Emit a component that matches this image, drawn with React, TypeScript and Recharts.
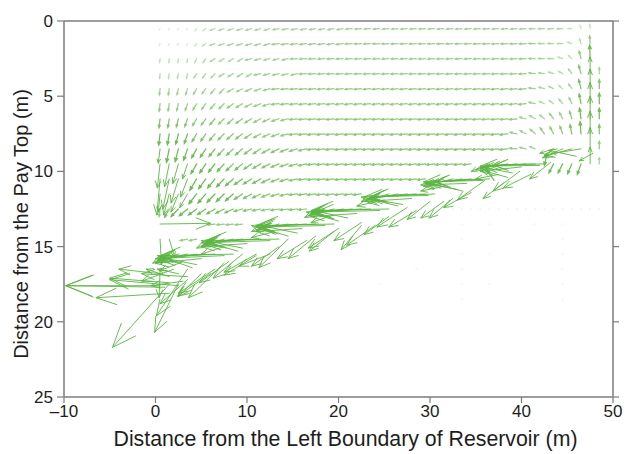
import { ScatterChart, Scatter, XAxis, YAxis, ReferenceLine } from 'recharts';

const GREEN = '#5cb544';
const AXIS = '#7d7d7d';
const TEXT = '#1e1e1e';

const X_TICKS = [-10, 0, 10, 20, 30, 40, 50];
const Y_TICKS = [0, 5, 10, 15, 20, 25];

// grid of the velocity field (m)
const COL_X = [0.5, 1.5, 2.5, 3.5, 4.5, 5.5, 6.5, 7.5, 8.5, 9.5, 10.5, 11.5, 12.5, 13.5, 14.5, 15.5, 16.5, 17.5, 18.5, 19.5, 20.5, 21.5, 22.5, 23.5, 24.5, 25.5, 26.5, 27.5, 28.5, 29.5, 30.5, 31.5, 32.5, 33.5, 34.5, 35.5, 36.5, 37.5, 38.5, 39.5, 40.5, 41.5, 42.5, 43.5, 44.5, 45.5, 46.5, 47.5, 48.5];
const ROW_Y = [0.5, 1.5, 2.5, 3.5, 4.5, 5.5, 6.5, 7.5, 8.5, 9.5, 10.5, 11.5, 12.5, 13.5, 14.5];

// horizontal / vertical components per row (null = no arrow)
const u0 = [-0.1, -0.1, -0.1, -0.1, -0.15, -0.3, -0.5, -0.55, -0.55, -0.6, -0.6, -0.6, -0.6, -0.65, -0.65, -0.65, -0.65, -0.65, -0.65, -0.65, -0.65, -0.7, -0.7, -0.7, -0.7, -0.7, -0.7, -0.7, -0.7, -0.7, -0.7, -0.7, -0.7, -0.7, -0.7, -0.7, -0.7, -0.7, -0.7, -0.7, -0.7, -0.65, -0.65, -0.6, -0.6, -0.4, -0.1, -0.05];
const v0 = [0.1, 0.1, 0.1, 0.1, 0.15, 0.15, 0.12, 0.12, 0.12, 0.12, 0.12, 0.12, 0.12, 0.08, 0.08, 0.08, 0.08, 0.08, 0.08, 0.08, 0.08, 0.04, 0.04, 0.04, 0.04, 0.04, 0.04, 0.04, 0.04, 0.04, 0.04, 0.04, 0.04, 0.04, 0.04, 0.04, 0.04, 0.04, 0.04, 0.04, 0.04, 0.03, 0.03, 0.03, 0.03, 0, -0.2, -0.25];

const u1 = [-0.1, -0.1, -0.1, -0.1, -0.2, -0.35, -0.55, -0.58, -0.6, -0.62, -0.64, -0.65, -0.65, -0.75, -0.75, -0.75, -0.75, -0.75, -0.75, -0.75, -0.75, -0.75, -0.75, -0.75, -0.75, -0.75, -0.75, -0.75, -0.75, -0.75, -0.75, -0.75, -0.75, -0.75, -0.75, -0.75, -0.75, -0.75, -0.75, -0.75, -0.75, -0.7, -0.65, -0.6, -0.55, -0.45, -0.15, -0.05];
const v1 = [0.12, 0.12, 0.12, 0.12, 0.15, 0.15, 0.12, 0.12, 0.12, 0.12, 0.12, 0.12, 0.12, 0.06, 0.06, 0.06, 0.06, 0.06, 0.06, 0.06, 0.06, 0.03, 0.03, 0.03, 0.03, 0.03, 0.03, 0.03, 0.03, 0.03, 0.03, 0.03, 0.03, 0.03, 0.03, 0.03, 0.03, 0.03, 0.03, 0.03, 0.03, 0, 0, 0, 0, -0.1, -0.3, -0.5];

const u2 = [-0.05, -0.05, -0.05, -0.05, -0.2, -0.3, -0.5, -0.5, -0.5, -0.5, -0.65, -0.65, -0.65, -0.65, -0.65, -0.75, -0.75, -0.75, -0.75, -0.75, -0.75, -0.75, -0.75, -0.75, -0.75, -0.75, -0.75, -0.75, -0.75, -0.75, -0.75, -0.75, -0.75, -0.75, -0.75, -0.75, -0.75, -0.75, -0.75, -0.75, -0.75, -0.7, -0.65, -0.6, -0.5, -0.35, -0.2, -0.05];
const v2 = [0.25, 0.25, 0.25, 0.25, 0.25, 0.25, 0.18, 0.18, 0.18, 0.18, 0.1, 0.1, 0.1, 0.1, 0.1, 0.03, 0.03, 0.03, 0.03, 0.03, 0.03, 0.03, 0.03, 0.03, 0.03, 0.03, 0.03, 0.03, 0.03, 0.03, 0.03, 0.03, 0.03, 0.03, 0.03, 0.03, 0.03, 0.03, 0.03, 0.03, 0.03, 0, 0, 0, -0.1, -0.2, -0.5, -0.9];

const u3 = [-0.05, -0.08, -0.1, -0.12, -0.3, -0.35, -0.4, -0.55, -0.55, -0.55, -0.55, -0.7, -0.7, -0.7, -0.7, -0.7, -0.78, -0.78, -0.78, -0.78, -0.78, -0.78, -0.78, -0.78, -0.78, -0.78, -0.78, -0.78, -0.78, -0.78, -0.78, -0.78, -0.78, -0.78, -0.78, -0.78, -0.78, -0.78, -0.78, -0.78, -0.78, -0.7, -0.6, -0.55, -0.45, -0.35, -0.25, 0, 0];
const v3 = [0.3, 0.3, 0.3, 0.3, 0.28, 0.28, 0.28, 0.2, 0.2, 0.2, 0.2, 0.1, 0.1, 0.1, 0.1, 0.1, 0.03, 0.03, 0.03, 0.03, 0.03, 0.03, 0.03, 0.03, 0.03, 0.03, 0.03, 0.03, 0.03, 0.03, 0.03, 0.03, 0.03, 0.03, 0.03, 0.03, 0.03, 0.03, 0.03, 0.03, 0.03, -0.05, -0.05, -0.1, -0.15, -0.3, -0.55, -1.1, -0.4];

const u4 = [-0.08, -0.1, -0.15, -0.2, -0.35, -0.4, -0.45, -0.5, -0.6, -0.62, -0.65, -0.68, -0.7, -0.8, -0.8, -0.8, -0.8, -0.8, -0.8, -0.8, -0.8, -0.8, -0.8, -0.8, -0.8, -0.8, -0.8, -0.8, -0.8, -0.8, -0.8, -0.8, -0.8, -0.8, -0.8, -0.8, -0.8, -0.8, -0.8, -0.8, -0.8, -0.7, -0.6, -0.5, -0.4, -0.35, -0.25, 0, 0];
const v4 = [0.42, 0.42, 0.4, 0.4, 0.36, 0.33, 0.32, 0.3, 0.22, 0.2, 0.18, 0.15, 0.12, 0.04, 0.04, 0.04, 0.04, 0.04, 0.04, 0.04, 0.04, 0.04, 0.04, 0.04, 0.04, 0.04, 0.04, 0.04, 0.04, 0.04, 0.04, 0.04, 0.04, 0.04, 0.04, 0.04, 0.04, 0.04, 0.04, 0.04, 0.04, -0.05, -0.1, -0.15, -0.2, -0.3, -0.6, -1.3, -0.6];

const u5 = [-0.1, -0.12, -0.18, -0.25, -0.4, -0.45, -0.5, -0.55, -0.65, -0.68, -0.7, -0.72, -0.75, -0.82, -0.82, -0.82, -0.82, -0.82, -0.82, -0.82, -0.82, -0.82, -0.82, -0.82, -0.82, -0.82, -0.82, -0.82, -0.82, -0.82, -0.82, -0.82, -0.82, -0.82, -0.82, -0.82, -0.82, -0.82, -0.82, -0.82, -0.82, -0.7, -0.55, -0.45, -0.4, -0.3, -0.2, 0, 0];
const v5 = [0.5, 0.48, 0.46, 0.44, 0.4, 0.37, 0.35, 0.33, 0.28, 0.25, 0.22, 0.18, 0.15, 0.05, 0.05, 0.05, 0.05, 0.05, 0.05, 0.05, 0.05, 0.05, 0.05, 0.05, 0.05, 0.05, 0.05, 0.05, 0.05, 0.05, 0.05, 0.05, 0.05, 0.05, 0.05, 0.05, 0.05, 0.05, 0.05, 0.05, 0.05, -0.1, -0.15, -0.2, -0.3, -0.4, -0.65, -1.4, -0.7];

const u6 = [-0.12, -0.15, -0.22, -0.3, -0.45, -0.5, -0.55, -0.6, -0.62, -0.7, -0.72, -0.74, -0.76, -0.78, -0.78, -0.85, -0.85, -0.85, -0.85, -0.85, -0.85, -0.85, -0.85, -0.85, -0.85, -0.85, -0.85, -0.85, -0.85, -0.85, -0.85, -0.85, -0.85, -0.85, -0.85, -0.85, -0.85, -0.85, -0.85, -0.85, -0.7, -0.6, -0.5, -0.45, -0.35, -0.25, -0.15, 0, 0];
const v6 = [0.6, 0.58, 0.55, 0.52, 0.45, 0.42, 0.4, 0.36, 0.34, 0.3, 0.27, 0.24, 0.2, 0.16, 0.12, 0.05, 0.05, 0.05, 0.05, 0.05, 0.05, 0.05, 0.05, 0.05, 0.05, 0.05, 0.05, 0.05, 0.05, 0.05, 0.05, 0.05, 0.05, 0.05, 0.05, 0.05, 0.05, 0.05, 0.05, 0.05, -0.1, -0.2, -0.25, -0.35, -0.4, -0.5, -0.7, -1.5, -0.7];

const u7 = [-0.15, -0.2, -0.28, -0.35, -0.5, -0.55, -0.6, -0.65, -0.68, -0.72, -0.74, -0.76, -0.78, -0.8, -0.8, -0.88, -0.88, -0.88, -0.88, -0.88, -0.88, -0.88, -0.88, -0.88, -0.88, -0.88, -0.88, -0.88, -0.88, -0.88, -0.88, -0.88, -0.88, -0.88, -0.88, -0.88, -0.88, -0.88, -0.88, -0.75, -0.65, -0.55, -0.45, -0.4, -0.3, -0.2, -0.1, 0, 0];
const v7 = [0.75, 0.72, 0.68, 0.64, 0.52, 0.48, 0.44, 0.4, 0.37, 0.34, 0.3, 0.26, 0.22, 0.18, 0.14, 0.06, 0.06, 0.06, 0.06, 0.06, 0.06, 0.06, 0.06, 0.06, 0.06, 0.06, 0.06, 0.06, 0.06, 0.06, 0.06, 0.06, 0.06, 0.06, 0.06, 0.06, 0.06, 0.06, 0.06, -0.1, -0.2, -0.3, -0.4, -0.45, -0.5, -0.6, -0.8, -1.5, -0.6];

const u8 = [-0.2, -0.3, -0.35, -0.42, -0.55, -0.6, -0.65, -0.7, -0.72, -0.75, -0.78, -0.8, -0.82, -0.84, -0.85, -0.85, -0.85, -0.9, -0.9, -0.9, -0.9, -0.9, -0.9, -0.9, -0.9, -0.9, -0.9, -0.9, -0.9, -0.9, -0.9, -0.9, -0.9, -0.9, -0.9, -0.9, -0.9, -0.9, -0.9, -0.8, -0.7, -0.6, null, null, null, null, null, 0, 0];
const v8 = [0.95, 0.9, 0.85, 0.75, 0.6, 0.55, 0.5, 0.45, 0.42, 0.4, 0.35, 0.32, 0.28, 0.24, 0.2, 0.16, 0.12, 0.06, 0.06, 0.06, 0.06, 0.06, 0.06, 0.06, 0.06, 0.06, 0.06, 0.06, 0.06, 0.06, 0.06, 0.06, 0.06, 0.06, 0.06, 0.06, 0.06, 0.06, 0.06, -0.05, -0.1, -0.15, null, null, null, null, null, -1.4, -0.5];

const u9 = [-0.3, -0.5, -0.6, -0.55, -0.62, -0.66, -0.7, -0.74, -0.77, -0.8, -0.82, -0.84, -0.85, -0.86, -0.87, -0.88, -0.88, -0.9, -0.9, -0.9, -0.9, -0.9, -0.9, -0.9, -0.9, -0.9, -0.9, -0.9, -0.9, -0.9, -0.9, -0.9, -0.9, -0.9, -0.9, null, null, null, null, null, null, null, null, -0.5, -0.5, -0.45, -0.4, 0, 0];
const v9 = [1.6, 1.5, 1.3, 1.0, 0.65, 0.6, 0.55, 0.5, 0.45, 0.4, 0.35, 0.3, 0.26, 0.22, 0.18, 0.15, 0.12, 0.06, 0.06, 0.06, 0.06, 0.06, 0.06, 0.06, 0.06, 0.06, 0.06, 0.06, 0.06, 0.06, 0.06, 0.06, 0.06, 0.06, 0.06, null, null, null, null, null, null, null, null, 0.6, 0.6, 0.65, 0.7, -1.1, -0.4];

const u10 = [-0.35, -0.7, -0.8, -0.75, -0.75, -0.78, -0.8, -0.82, -0.85, -0.88, -0.88, -0.88, -0.88, -0.88, -0.88, -0.88, -0.9, -0.9, -0.9, -0.9, -0.9, -0.9, -0.9, -0.9, -0.9, -0.9, -0.9, -0.9, -0.9, -0.9];
const v10 = [2.4, 2.0, 1.6, 1.2, 0.75, 0.65, 0.6, 0.52, 0.45, 0.38, 0.34, 0.3, 0.25, 0.2, 0.16, 0.12, 0.06, 0.06, 0.06, 0.06, 0.06, 0.06, 0.06, 0.06, 0.06, 0.06, 0.06, 0.06, 0.06, 0.06];

const u11 = [-0.2, -0.6, -0.8, -0.85, -0.85, -0.85, -0.85, -0.85, -0.85, -0.88, -0.88, -0.88, -0.88, -0.88, -0.88, -0.9, -0.9, -0.9, -0.9, -0.9, -0.9, -0.9, -0.9];
const v11 = [1.2, 1.4, 1.2, 0.9, 0.65, 0.6, 0.55, 0.5, 0.45, 0.35, 0.3, 0.25, 0.2, 0.15, 0.12, 0.06, 0.06, 0.06, 0.06, 0.06, 0.06, 0.06, 0.06];

const u12 = [-0.1, -0.5, -0.8, -0.9, -0.9, -0.9, -0.9, -0.9, -0.9, -0.9, -0.9, -0.9, -0.9, -0.9, -0.9, -0.9, -0.9];
const v12 = [0.5, 0.55, 0.5, 0.45, 0.4, 0.36, 0.32, 0.28, 0.25, 0.15, 0.13, 0.11, 0.1, 0.08, 0.07, 0.06, 0.05];

const u13 = [5.5, null, null, null, null, null, -0.8, -0.8, -0.8, -0.8];
const v13 = [-0.05, null, null, null, null, null, 0.05, 0.05, 0.05, 0.05];

const u14 = [0.15, 0.6, null, -0.8, -0.8];
const v14 = [1.7, 1.2, null, 0.1, 0.1];

const U_ROWS = [u0, u1, u2, u3, u4, u5, u6, u7, u8, u9, u10, u11, u12, u13, u14];
const V_ROWS = [v0, v1, v2, v3, v4, v5, v6, v7, v8, v9, v10, v11, v12, v13, v14];

// strong arrows along the front (tail x, tail y, u, v)
const BAND_X = [46.5, 45.5, 44.5, 43.5, 46.0, 42.8,
  42.5, 41.5, 40.5, 39.5, 38.5, 37.5, 36.5, 38.5, 37.5, 37.0,
  36.5, 35.5, 34.5, 33.5, 32.5, 31.5, 33.5, 31.5,
  30.5, 29.5, 28.5, 27.5, 26.5, 25.5, 24.5, 26.5, 25.0,
  25.5, 23.5, 22.5, 21.5, 20.5, 19.5, 18.5, 20.0, 19.5,
  19.5, 17.5, 16.5, 15.5, 14.5, 13.5, 12.5, 14.5, 13.0,
  13.5, 11.5, 10.5, 9.5, 8.5, 7.5, 6.5, 9.0, 7.5,
  8.5, 6.5, 5.5, 4.5, 3.5, 2.5, 1.5, 4.0, 3.0, 2.5,
  0.5, 1.0, 2.5, 1.5, 3.5, 0.5, 1.5, 0.5,
  1.5, 2.5, 3.5, 7.5, 6.5, 9.5, 14.5, 12.5, 20.0, 24.0, 27.5, 32.5, 36.0, 39.8, 43.2, 47.8, 17.5, 11.0, 5.0, 22.5, 30.0,
  42.0, 40.0, 39.0, 41.0, 38.0,
  35.8, 34.0, 33.0, 34.5, 31.5,
  29.8, 28.0, 27.0, 28.5, 25.5,
  24.5, 22.0, 21.0, 22.5, 19.5,
  18.5, 16.0, 15.5, 16.5, 13.5,
  12.5, 10.0, 9.5, 11.0, 8.0,
  7.5, 5.0, 4.5, 6.0, 3.5,
  2.0, 1.5, 3.0];
const BAND_Y = [8.5, 8.5, 8.5, 8.5, 9.0, 8.8,
  9.5, 9.5, 9.5, 9.5, 9.5, 9.5, 9.5, 10.4, 10.2, 10.6,
  10.5, 10.5, 10.5, 10.5, 10.5, 10.5, 11.3, 11.0,
  11.5, 11.5, 11.5, 11.5, 11.5, 11.5, 11.5, 12.3, 11.9,
  12.5, 12.5, 12.5, 12.5, 12.5, 12.5, 12.5, 13.3, 12.9,
  13.5, 13.5, 13.5, 13.5, 13.5, 13.5, 13.5, 14.3, 14.0,
  14.5, 14.5, 14.5, 14.5, 14.5, 14.5, 14.5, 15.3, 15.0,
  15.5, 15.5, 15.5, 15.5, 15.5, 15.5, 15.5, 16.4, 16.0, 16.8,
  17.6, 17.7, 17.6, 17.4, 17.0, 16.8, 18.1, 16.5,
  17.5, 17.5, 16.5, 16.1, 16.5, 15.5, 14.5, 15.5, 13.8, 13.6, 12.4, 11.8, 10.6, 10.0, 9.4, 8.8, 14.3, 15.5, 16.8, 13.6, 12.0,
  9.6, 9.7, 10.1, 10.2, 10.8,
  10.6, 10.8, 11.2, 11.4, 12.0,
  11.6, 11.8, 12.2, 12.6, 13.0,
  12.6, 12.8, 13.1, 13.4, 14.0,
  13.6, 13.8, 14.1, 14.6, 15.0,
  14.6, 14.8, 15.1, 15.6, 16.0,
  15.6, 15.8, 16.2, 16.8, 17.2,
  16.5, 17.0, 17.3];
const BAND_U = [-4.0, -3.0, -2.2, -1.5, -3.0, -0.3,
  -5.5, -4.5, -4.0, -3.5, -3.0, -2.5, -2.0, -3.0, -2.5, -0.8,
  -6.0, -5.0, -4.0, -3.5, -2.8, -2.2, -4.0, -2.5,
  -7.0, -6.0, -5.0, -4.0, -3.3, -2.6, -2.0, -4.0, -3.0,
  -8.5, -6.5, -5.5, -4.5, -3.5, -2.8, -2.2, -3.5, -2.5,
  -8.5, -6.5, -5.0, -4.0, -3.2, -2.5, -2.0, -4.0, -2.5,
  -8.0, -6.0, -5.0, -4.0, -3.2, -2.5, -2.0, -4.0, -2.5,
  -8.0, -6.0, -5.0, -4.0, -3.2, -2.5, -1.8, -3.8, -2.5, -2.3,
  -10.3, -10.8, -7.5, -6.5, -5.0, -4.5, -8.0, -0.1,
  -6.2, -2.6, -3.4, -3.9, -4.0, -3.2, -3.2, -3.4, -3.3, -3.1, -3.3, -2.6, -3.0, -2.9, -2.3, -1.5, -3.0, -3.5, -2.5, -2.2, -2.5,
  -6.5, -4.5, -3.5, -3.0, -2.2,
  -6.5, -5.0, -3.5, -3.0, -2.5,
  -7.0, -5.0, -3.8, -3.0, -2.7,
  -7.0, -5.0, -3.8, -3.0, -2.7,
  -7.5, -5.0, -4.0, -3.2, -3.0,
  -7.5, -5.0, -4.0, -3.5, -3.2,
  -7.5, -5.0, -4.0, -3.6, -3.0,
  -3.5, -2.5, -3.5];
const BAND_V = [0.4, 0.5, 0.6, 0.3, -0.4, 0.8,
  0.1, 0.1, 0.15, 0.2, 0.3, 0.4, 0.5, -0.5, 0.3, -0.7,
  0.2, 0.2, 0.2, 0.3, 0.4, 0.5, -0.6, 0.3,
  0.2, 0.2, 0.2, 0.3, 0.35, 0.45, 0.5, -0.6, 0.4,
  0.1, 0.15, 0.2, 0.25, 0.35, 0.45, 0.55, -0.6, 0.5,
  0.1, 0.15, 0.2, 0.25, 0.35, 0.45, 0.5, -0.7, 0.4,
  0.1, 0.15, 0.25, 0.3, 0.4, 0.5, 0.6, -0.7, 0.5,
  0.1, 0.2, 0.3, 0.35, 0.45, 0.55, 0.6, -0.8, 0.6, -0.3,
  0.0, -0.1, -0.4, -0.3, -0.2, -0.3, 0.3, 1.9,
  4.2, 3.2, 3.1, 2.3, 1.6, 1.6, 1.9, 0.8, 1.3, 1.3, 1.3, 1.3, 1.3, 1.3, 1.1, 0.5, 1.5, 1.2, 1.5, 1.6, 1.2,
  0.05, 0.3, -0.4, 0.9, 1.0,
  0.1, 0.1, -0.4, 1.0, 1.1,
  0.1, 0.2, -0.4, 1.1, 1.2,
  0.1, 0.2, -0.5, 1.2, 1.3,
  0.1, 0.2, -0.5, 1.2, 1.3,
  0.15, 0.2, -0.5, 1.3, 1.4,
  0.2, 0.3, -0.5, 1.5, 1.6,
  0.8, -0.5, 0.3];

// almost invisible points below the front
const FAINT_X = [30.5, 31.5, 32.5, 33.5, 34.5, 35.5, 36.5, 37.5, 38.5, 39.5, 40.5, 41.5, 42.5, 43.5, 44.5, 45.5, 46.5, 47.5, 48.5, 33.5, 33.5, 33.5, 33.5, 33.5, 33.5, 36.5, 36.5, 36.5, 44.5, 44.5, 44.5, 44.5, 44.5, 44.5, 41.5, 24.5, 28.5];
const FAINT_Y = [12.5, 12.5, 12.5, 12.5, 12.5, 12.5, 12.5, 12.5, 12.5, 12.5, 12.5, 12.5, 12.5, 12.5, 12.5, 12.5, 12.5, 12.5, 12.5, 13.5, 14.5, 15.5, 16.5, 17.5, 18.5, 13.5, 15.5, 17.5, 13.5, 14.5, 15.5, 16.5, 17.5, 18.5, 13.5, 17.5, 16.5];

type Vec = { x: number; y: number; u: number; v: number };

const arrows: Vec[] = [];
ROW_Y.forEach((y, r) => {
  U_ROWS[r].forEach((u, c) => {
    const v = V_ROWS[r][c];
    if (u === null || v === null) return;
    arrows.push({ x: COL_X[c], y, u, v });
  });
});
BAND_X.forEach((x, i) => {
  arrows.push({ x, y: BAND_Y[i], u: BAND_U[i], v: BAND_V[i] });
});

const faint = FAINT_X.map((x, i) => ({ x, y: FAINT_Y[i] }));

function Arrow(props: any) {
  const { x1, y1, x2, y2, clipPath } = props;
  const dx = x2 - x1;
  const dy = y2 - y1;
  const len = Math.hypot(dx, dy);
  if (!len) return <g />;
  const op = Math.min(0.9, Math.max(0.2, 0.1 + len / 13));
  const a = Math.atan2(dy, dx);
  const h = len * 0.3;
  const w = 0.38;
  let d = `M${x1},${y1}L${x2},${y2}`;
  if (len > 2.5) {
    const hx1 = x2 - h * Math.cos(a - w);
    const hy1 = y2 - h * Math.sin(a - w);
    const hx2 = x2 - h * Math.cos(a + w);
    const hy2 = y2 - h * Math.sin(a + w);
    d += `M${hx1},${hy1}L${x2},${y2}L${hx2},${hy2}`;
  }
  return (
    <path
      d={d}
      clipPath={clipPath}
      fill="none"
      stroke={GREEN}
      strokeOpacity={op}
      strokeWidth={len < 14 ? 1.25 : 1}
      strokeLinecap="round"
    />
  );
}

const fmtX = (v: number) => (v < 0 ? `\u2013${Math.abs(v)}` : `${v}`);
const blank = () => '';

export default function App() {
  return (
    <div style={{ width: 625, height: 454, background: '#fff', fontFamily: '"Liberation Sans", Arial, sans-serif' }}>
      <style>{`body { margin: 0; }`}</style>
      <ScatterChart width={625} height={454} margin={{ top: 0, right: 0, bottom: 0, left: 0 }}>
        <XAxis
          type="number"
          dataKey="x"
          domain={[-10, 50]}
          ticks={X_TICKS}
          tickFormatter={fmtX}
          allowDataOverflow
          height={57}
          tickSize={6}
          tickMargin={2}
          axisLine={{ stroke: AXIS, strokeWidth: 1.5 }}
          tickLine={{ stroke: AXIS, strokeWidth: 1.2 }}
          tick={{ fill: TEXT, fontSize: 17 }}
          label={{ value: 'Distance from the Left Boundary of Reservoir (m)', position: 'center', dx: 7, dy: 13, fontSize: 21.3, fill: TEXT }}
        />
        <XAxis
          xAxisId="top"
          orientation="top"
          type="number"
          domain={[-10, 50]}
          ticks={X_TICKS}
          tickFormatter={blank}
          allowDataOverflow
          height={21}
          tickSize={6}
          axisLine={{ stroke: AXIS, strokeWidth: 1.5 }}
          tickLine={{ stroke: AXIS, strokeWidth: 1.2 }}
        />
        <YAxis
          type="number"
          dataKey="y"
          domain={[0, 25]}
          reversed
          ticks={Y_TICKS}
          allowDataOverflow
          width={64}
          tickSize={7}
          tickMargin={4}
          axisLine={{ stroke: AXIS, strokeWidth: 1.5 }}
          tickLine={{ stroke: AXIS, strokeWidth: 1.2 }}
          tick={{ fill: TEXT, fontSize: 17 }}
          label={{ value: 'Distance from the Pay Top (m)', angle: -90, position: 'center', dx: -11, dy: 15, fontSize: 20, fill: TEXT }}
        />
        <YAxis
          yAxisId="right"
          orientation="right"
          type="number"
          domain={[0, 25]}
          reversed
          ticks={Y_TICKS}
          tickFormatter={blank}
          allowDataOverflow
          width={12}
          tickSize={6}
          axisLine={{ stroke: AXIS, strokeWidth: 1.5 }}
          tickLine={{ stroke: AXIS, strokeWidth: 1.2 }}
        />
        <Scatter
          data={faint}
          isAnimationActive={false}
          shape={(p: any) => <circle cx={p.cx} cy={p.cy} r={0.9} fill={GREEN} fillOpacity={0.12} />}
        />
        {arrows.map((a, i) => (
          <ReferenceLine
            key={i}
            segment={[{ x: a.x, y: a.y }, { x: a.x + a.u, y: a.y + a.v }]}
            ifOverflow="hidden"
            shape={Arrow}
          />
        ))}
      </ScatterChart>
    </div>
  );
}
